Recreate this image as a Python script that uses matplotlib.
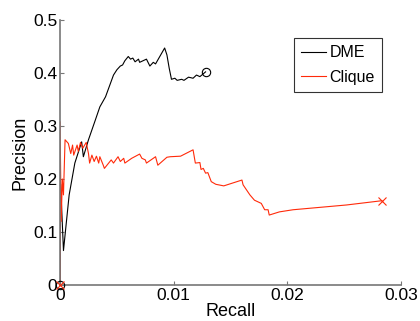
import matplotlib
matplotlib.use("Agg")
from matplotlib import pyplot as plt

plt.rcParams["font.family"] = ["Liberation Sans", "DejaVu Sans"]

# precision / recall curves
dme_recall = [0.0, 0.00005, 0.0003, 0.0008, 0.0013, 0.0019, 0.00205, 0.0025, 0.0031,
              0.0035, 0.004, 0.0047, 0.005, 0.0053, 0.0055, 0.0057, 0.006, 0.0062,
              0.0064, 0.0066, 0.0069, 0.007, 0.0073, 0.0076, 0.0079, 0.0082, 0.0084,
              0.0092, 0.0094, 0.0096, 0.0098, 0.0101, 0.0103, 0.0107, 0.0109, 0.0113,
              0.0117, 0.012, 0.0123, 0.0128]
dme_precision = [0.0, 0.19, 0.065, 0.17, 0.23, 0.27, 0.242, 0.274, 0.311,
                 0.336, 0.355, 0.396, 0.406, 0.413, 0.415, 0.423, 0.431, 0.426,
                 0.428, 0.421, 0.426, 0.42, 0.423, 0.426, 0.413, 0.42, 0.417,
                 0.447, 0.434, 0.409, 0.388, 0.39, 0.386, 0.388, 0.386, 0.392,
                 0.39, 0.396, 0.393, 0.402]

clique_recall = [0.0, 0.0, 0.0001, 0.0002, 0.0003, 0.00044, 0.00073, 0.00094, 0.0011,
                 0.0012, 0.0015, 0.0016, 0.0018, 0.002, 0.0023, 0.0025, 0.0026, 0.0028,
                 0.003, 0.0032, 0.0034, 0.0035, 0.0038, 0.0039, 0.0045, 0.0047, 0.0051,
                 0.0053, 0.0056, 0.0057, 0.0063, 0.007, 0.0072, 0.0075, 0.0076, 0.0084,
                 0.0086, 0.0094, 0.0097, 0.0106, 0.0117, 0.0119, 0.0123, 0.0124, 0.0126,
                 0.0128, 0.013, 0.0133, 0.0137, 0.0144, 0.016, 0.0161, 0.0167, 0.0171,
                 0.0177, 0.018, 0.0183, 0.0184, 0.0193, 0.0205, 0.0252, 0.0283]
clique_precision = [0.0, 0.308, 0.12, 0.2, 0.17, 0.274, 0.267, 0.248, 0.264,
                    0.245, 0.264, 0.252, 0.269, 0.258, 0.269, 0.248, 0.23, 0.245,
                    0.233, 0.243, 0.23, 0.242, 0.226, 0.22, 0.236, 0.23, 0.242,
                    0.233, 0.239, 0.23, 0.239, 0.247, 0.239, 0.236, 0.23, 0.242,
                    0.226, 0.241, 0.242, 0.243, 0.255, 0.23, 0.231, 0.218, 0.22,
                    0.211, 0.212, 0.195, 0.19, 0.187, 0.198, 0.189, 0.17, 0.16,
                    0.154, 0.142, 0.142, 0.132, 0.138, 0.142, 0.151, 0.159]

red = "#ff2a0a"

fig = plt.figure(figsize=(4.2, 3.21), dpi=100)
ax = fig.add_axes([0.143, 0.112, 0.812, 0.826])

ax.plot(dme_recall, dme_precision, color="black", lw=0.8, label="DME")
ax.plot(clique_recall, clique_precision, color=red, lw=0.8, label="Clique")
# start / end markers
ax.plot([dme_recall[0], dme_recall[-1]], [dme_precision[0], dme_precision[-1]],
        "o", mfc="none", mec="black", ms=6, mew=0.8, clip_on=False, zorder=5)
ax.plot([clique_recall[0], clique_recall[-1]], [clique_precision[0], clique_precision[-1]],
        "x", color=red, ms=6, mew=0.8, clip_on=False, zorder=5)

ax.set_xlim(0, 0.03)
ax.set_ylim(0, 0.5)
ax.set_xticks([0, 0.01, 0.02, 0.03])
ax.set_xticklabels(["0", "0.01", "0.02", "0.03"])
ax.set_yticks([0, 0.1, 0.2, 0.3, 0.4, 0.5])
ax.set_yticklabels(["0", "0.1", "0.2", "0.3", "0.4", "0.5"])
ax.set_xlabel("Recall", fontsize=13, labelpad=0)
ax.set_ylabel("Precision", fontsize=13, labelpad=3)

for s in ["top", "right"]:
    ax.spines[s].set_visible(False)
for s in ["left", "bottom"]:
    ax.spines[s].set_color("#777777")
    ax.spines[s].set_linewidth(1.2)
ax.tick_params(direction="in", length=3, color="#777777", labelsize=12.5, pad=2)

leg = ax.legend(loc="upper right", bbox_to_anchor=(0.944, 0.932), borderaxespad=0,
                fontsize=11.5, frameon=True, fancybox=False, handlelength=1.6,
                handletextpad=0.2, borderpad=0.45, labelspacing=0.6)
leg.get_frame().set_edgecolor("black")
leg.get_frame().set_linewidth(0.8)

fig.savefig("out.png", dpi=100)
